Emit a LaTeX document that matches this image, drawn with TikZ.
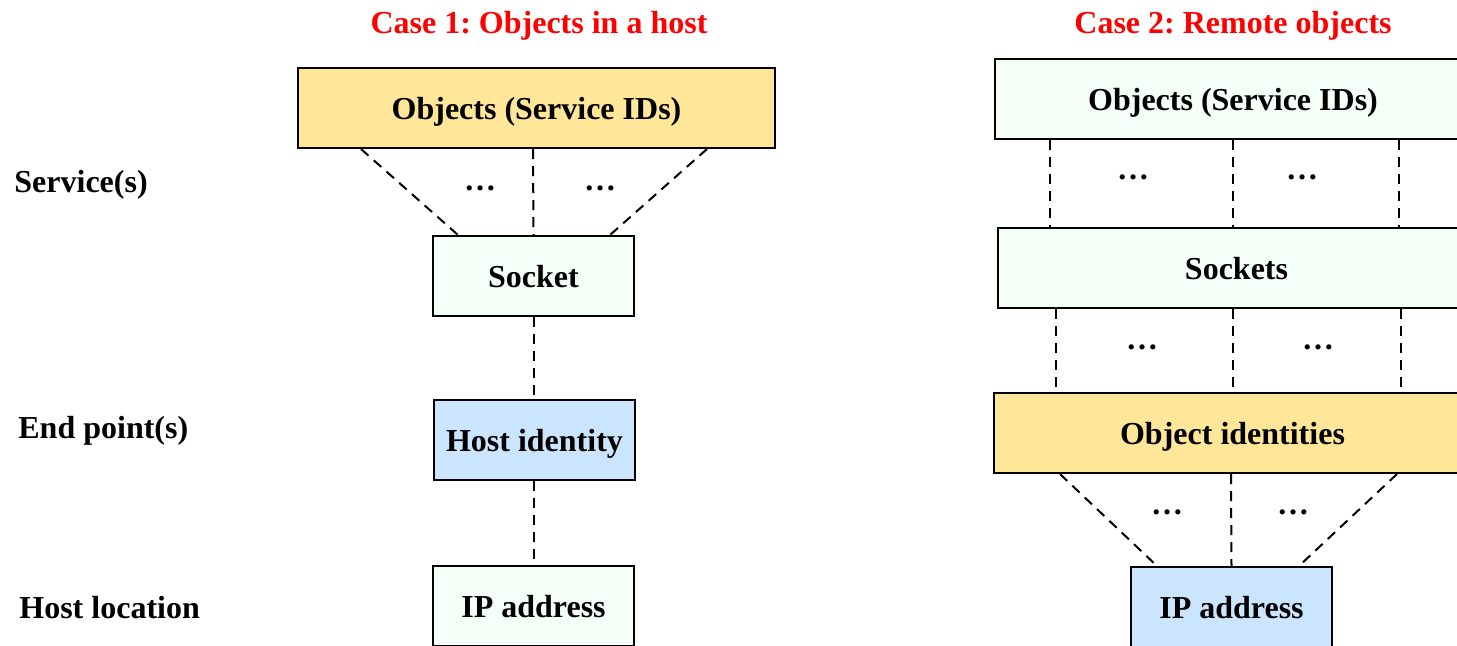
\documentclass[tikz,border=0pt]{standalone}
\usepackage{fontspec}
\setmainfont{Liberation Serif}
\frenchspacing
\definecolor{boxyellow}{HTML}{FFE699}
\definecolor{boxgreen}{HTML}{F4FFF7}
\definecolor{boxblue}{HTML}{CCE5FF}
\definecolor{titlered}{HTML}{FF0000}
\tikzset{
  txt/.style={font=\fontsize{16}{19}\selectfont\bfseries, inner sep=0pt},
  box/.style={txt, draw=black, line width=1pt, minimum height=40pt, inner sep=0pt,
              text height=11.5pt, text depth=0pt},
  wide/.style={box, minimum width=238.5pt},
  small/.style={box, minimum width=100.5pt},
  dline/.style={line width=1pt, dash pattern=on 5pt off 3.5pt},
  ttl/.style={txt, text=titlered, anchor=base},
  lbl/.style={txt, anchor=base west},
  dots/.style={txt, anchor=base}
}
\begin{document}
\begin{tikzpicture}[x=0.5pt, y=-0.5pt]
\useasboundingbox (0,0) rectangle (1457,645);
\clip (0,0) rectangle (1457,645);
\fill[white] (0,0) rectangle (1457,645);

% titles
\node[ttl] (t1) at (539,33) {Case 1: Objects in a host};
\node[ttl] (t2) at (1233,33) {Case 2: Remote objects};

% left labels
\node[lbl] (l1) at (14,192) {Service(s)};
\node[lbl] (l2) at (18,438) {End point(s)};
\node[lbl] (l3) at (19,618) {Host location};

% Case 1
\node[wide, fill=boxyellow] (o1) at (536.5,108) {Objects (Service IDs)};
\node[small, fill=boxgreen] (s1) at (533.5,276) {Socket};
\node[small, fill=boxblue] (h1) at (534.5,440) {Host identity};
\node[small, fill=boxgreen] (ip1) at (533.5,606) {IP address};

\draw[dline] ([xshift=-175.5*0.5pt]o1.south) -- ([xshift=-75.5*0.5pt]s1.north);
\draw[dline] ([xshift=-3.5*0.5pt]o1.south) -- (s1.north);
\draw[dline] ([xshift=170.5*0.5pt]o1.south) -- ([xshift=76.5*0.5pt]s1.north);
\draw[dline] (s1.south) -- ([xshift=-1*0.5pt]h1.north);
\draw[dline] ([xshift=-1*0.5pt]h1.south) -- (ip1.north);
\node[dots] (d1) at (480,190) {…};
\node[dots] (d2) at (600,190) {…};

% Case 2
\node[wide, fill=boxgreen] (o2) at (1233,99) {Objects (Service IDs)};
\node[wide, fill=boxgreen] (s2) at (1236.5,268) {Sockets};
\node[wide, fill=boxyellow] (oi2) at (1232.5,433) {Object identities};
\node[small, fill=boxblue] (ip2) at (1231.5,607) {IP address};

\draw[dline] ([xshift=-183*0.5pt]o2.south) -- ([xshift=-186.5*0.5pt]s2.north);
\draw[dline] (o2.south) -- ([xshift=-3.5*0.5pt]s2.north);
\draw[dline] ([xshift=166*0.5pt]o2.south) -- ([xshift=162.5*0.5pt]s2.north);

\draw[dline] ([xshift=-180.5*0.5pt]s2.south) -- ([xshift=-176.5*0.5pt]oi2.north);
\draw[dline] ([xshift=-3.5*0.5pt]s2.south) -- ([xshift=0.5*0.5pt]oi2.north);
\draw[dline] ([xshift=164.5*0.5pt]s2.south) -- ([xshift=168.5*0.5pt]oi2.north);

\draw[dline] ([xshift=-172.5*0.5pt]oi2.south) -- ([xshift=-74.5*0.5pt]ip2.north);
\draw[dline] ([xshift=-1.5*0.5pt]oi2.south) -- (ip2.north);
\draw[dline] ([xshift=164.5*0.5pt]oi2.south) -- ([xshift=67.5*0.5pt]ip2.north);

\node[dots] (d3) at (1133,179) {…};
\node[dots] (d4) at (1302,179) {…};
\node[dots] (d5) at (1142,349) {…};
\node[dots] (d6) at (1318,349) {…};
\node[dots] (d7) at (1167,514) {…};
\node[dots] (d8) at (1293,514) {…};
\end{tikzpicture}
\end{document}
